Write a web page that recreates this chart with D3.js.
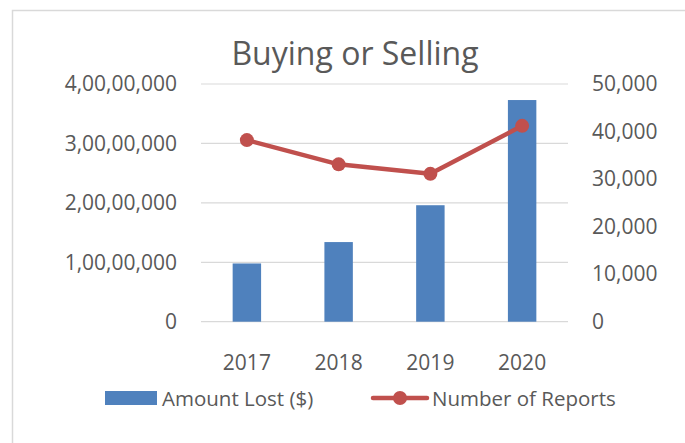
<!DOCTYPE html>
<html>
<head>
<meta charset="utf-8">
<script src="https://cdn.jsdelivr.net/npm/d3@7"></script>
<style>
  body { margin: 0; background: #fff; }
  svg { display: block; font-family: 'Open Sans', sans-serif; }
</style>
</head>
<body>
<svg></svg>
<script>
const years = ['2017', '2018', '2019', '2020'];
const amountLost = [9800000, 13400000, 19600000, 37300000];
const reports = [38200, 33100, 31100, 41200];
const leftTicks = [0, 10000000, 20000000, 30000000, 40000000];
const rightTicks = [0, 10000, 20000, 30000, 40000, 50000];

const size = {w: 685, h: 443};
const plot = {l: 201, r: 568, t: 84, b: 321.7};
const textColor = '#595959';
const barColor = '#4F81BD';
const lineColor = '#C0504D';

const svg = d3.select('svg')
    .attr('width', size.w)
    .attr('height', size.h);

// chart border (only top and left edges are visible in the frame)
svg.append('rect')
    .attr('x', 12.5).attr('y', 10.5)
    .attr('width', 700).attr('height', 460)
    .attr('fill', 'none')
    .attr('stroke', '#d9d9d9')
    .attr('stroke-width', 1.5);

const x = d3.scaleBand().domain(years).range([plot.l, plot.r]).padding(0);
const yL = d3.scaleLinear().domain([0, 40000000]).range([plot.b, plot.t]);
const yR = d3.scaleLinear().domain([0, 50000]).range([plot.b, plot.t]);

// indian style digit grouping: 4,00,00,000
const inr = d3.formatLocale({decimal: '.', thousands: ',', grouping: [3, 2, 2, 2, 2], currency: ['', '']});
const fmtL = inr.format(',');
const fmtR = d3.format(',');

// gridlines
svg.append('g').selectAll('line')
    .data(leftTicks)
    .join('line')
    .attr('x1', plot.l).attr('x2', plot.r)
    .attr('y1', d => yL(d)).attr('y2', d => yL(d))
    .attr('stroke', '#d9d9d9')
    .attr('stroke-width', 1.2);

// bars
const bw = x.bandwidth() * 0.31;
svg.append('g').selectAll('rect')
    .data(amountLost)
    .join('rect')
    .attr('x', (d, i) => x(years[i]) + x.bandwidth() / 2 - bw / 2)
    .attr('y', d => yL(d))
    .attr('width', bw)
    .attr('height', d => yL(0) - yL(d))
    .attr('fill', barColor);

// line + markers
const line = d3.line()
    .x((d, i) => x(years[i]) + x.bandwidth() / 2)
    .y(d => yR(d));

svg.append('path')
    .datum(reports)
    .attr('d', line)
    .attr('fill', 'none')
    .attr('stroke', lineColor)
    .attr('stroke-width', 4.5)
    .attr('stroke-linejoin', 'round')
    .attr('stroke-linecap', 'round');

svg.append('g').selectAll('circle')
    .data(reports)
    .join('circle')
    .attr('cx', (d, i) => x(years[i]) + x.bandwidth() / 2)
    .attr('cy', d => yR(d))
    .attr('r', 7)
    .attr('fill', lineColor);

// axes
function styleAxis(g) {
    g.select('.domain').remove();
    g.selectAll('.tick line').remove();
    g.selectAll('text')
        .attr('fill', textColor)
        .style('font-size', '21px')
        .style('font-family', "'Open Sans', sans-serif");
}

svg.append('g')
    .attr('transform', 'translate(' + plot.l + ',0)')
    .call(d3.axisLeft(yL).tickValues(leftTicks).tickFormat(fmtL).tickSize(0).tickPadding(24))
    .call(styleAxis);

svg.append('g')
    .attr('transform', 'translate(' + plot.r + ',0)')
    .call(d3.axisRight(yR).tickValues(rightTicks).tickFormat(fmtR).tickSize(0).tickPadding(24))
    .call(styleAxis);

svg.append('g')
    .attr('transform', 'translate(0,' + plot.b + ')')
    .call(d3.axisBottom(x).tickSize(0).tickPadding(33))
    .call(styleAxis);

// title
svg.append('text')
    .attr('x', 355)
    .attr('y', 65)
    .attr('text-anchor', 'middle')
    .attr('fill', textColor)
    .style('font-size', '32px')
    .text('Buying or Selling');

// legend
const leg = svg.append('g');
leg.append('rect')
    .attr('x', 105).attr('y', 391)
    .attr('width', 52).attr('height', 14)
    .attr('fill', barColor);
leg.append('text')
    .attr('x', 162).attr('y', 406)
    .attr('fill', textColor)
    .style('font-size', '20.5px')
    .text('Amount Lost ($)');
leg.append('line')
    .attr('x1', 373).attr('x2', 427)
    .attr('y1', 398).attr('y2', 398)
    .attr('stroke', lineColor)
    .attr('stroke-width', 4.5)
    .attr('stroke-linecap', 'round');
leg.append('circle')
    .attr('cx', 400).attr('cy', 398)
    .attr('r', 7)
    .attr('fill', lineColor);
leg.append('text')
    .attr('x', 432).attr('y', 406)
    .attr('fill', textColor)
    .style('font-size', '20.5px')
    .text('Number of Reports');
</script>
</body>
</html>
